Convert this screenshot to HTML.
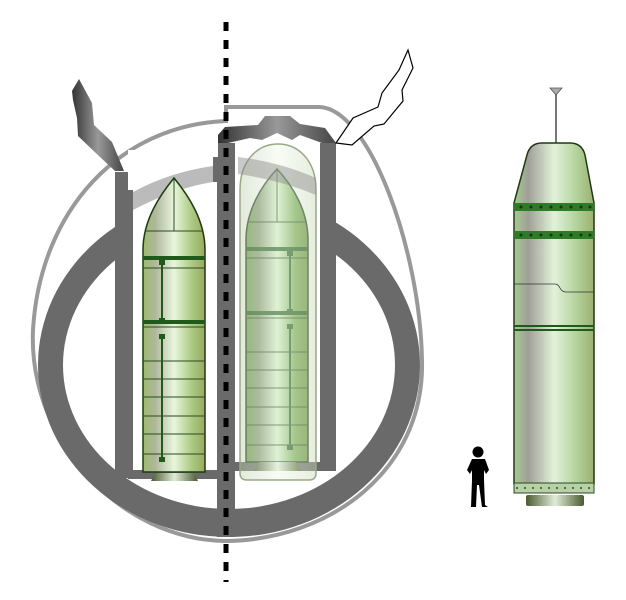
<!DOCTYPE html>
<html><head><meta charset="utf-8"><style>html,body{margin:0;padding:0;background:#fff}svg{display:block}</style></head>
<body>
<svg width="626" height="600" viewBox="0 0 626 600" xmlns="http://www.w3.org/2000/svg">
<defs>
<linearGradient id="mg" x1="0" x2="1" y1="0" y2="0">
<stop offset="0" stop-color="#9dba6c"/><stop offset="0.2" stop-color="#b0b89c"/><stop offset="0.5" stop-color="#e8f5dc"/><stop offset="0.8" stop-color="#aac880"/><stop offset="1" stop-color="#9aa860"/>
</linearGradient>
<linearGradient id="mg2" x1="0" x2="1" y1="0" y2="0">
<stop offset="0" stop-color="#6ea050"/><stop offset="0.2" stop-color="#889a78"/><stop offset="0.5" stop-color="#d0ecc4"/><stop offset="0.8" stop-color="#74aa50"/><stop offset="1" stop-color="#709040"/>
</linearGradient>
<linearGradient id="big" x1="0" x2="1" y1="0" y2="0">
<stop offset="0" stop-color="#a8c890"/><stop offset="0.18" stop-color="#a0a098"/><stop offset="0.5" stop-color="#e2f2da"/><stop offset="0.8" stop-color="#b0d098"/><stop offset="1" stop-color="#9cb070"/>
</linearGradient>
<linearGradient id="noz" x1="0" x2="1"><stop offset="0" stop-color="#4a5a30"/><stop offset="0.5" stop-color="#e0ecd8"/><stop offset="1" stop-color="#4a5a30"/></linearGradient>
<linearGradient id="dk" x1="0" x2="1"><stop offset="0" stop-color="#333"/><stop offset="0.5" stop-color="#999"/><stop offset="1" stop-color="#444"/></linearGradient>
<linearGradient id="cap" x1="0" x2="1"><stop offset="0" stop-color="#bfcfb0"/><stop offset="0.5" stop-color="#f0f8ea"/><stop offset="1" stop-color="#c8d8b8"/></linearGradient>
</defs>

<!-- outer hull -->
<path d="M226 121 C120 125 40 210 33 330 C28 440 120 540 226 541 C330 540 425 470 422 360 C420 250 370 110 320 107 L226 107 Z" fill="none" stroke="#999" stroke-width="4"/>
<!-- ring -->
<path fill-rule="evenodd" fill="#6a6a6a" d="M38 365 A191 172 0 1 0 420 365 A191 172 0 1 0 38 365 Z M63 365 A166 144 0 1 1 395 365 A166 144 0 1 1 63 365 Z"/>
<!-- white compartments clearing ring -->
<rect x="128" y="150" width="89" height="328" fill="#fff"/>
<rect x="235" y="143" width="85" height="328" fill="#fff"/>
<!-- light arc band -->
<path d="M133 192 Q170 172 213 166 L213 182 Q175 188 133 210 Z" fill="#bbb"/>
<!-- walls -->
<path d="M115 172 L128 172 L128 190 L133 190 L133 478 L115 478 Z" fill="#6a6a6a"/>
<rect x="128" y="470" width="89" height="9" fill="#6a6a6a"/>
<rect x="235" y="462" width="87" height="9" fill="#6a6a6a"/>
<rect x="320" y="143" width="16" height="328" fill="#6a6a6a"/>
<path d="M218 143 L235 143 L235 537 L217 537 L217 182 L213 182 L213 157 L218 157 Z" fill="#6a6a6a"/>
<!-- top cap -->
<path d="M218 143 L218 135 L225 127 L258 125 L265 116 L290 116 L300 124 L325 128 L336 143 L322 143 L300 135 L292 140 L277 133 L262 140 L250 138 L228 143 Z" fill="url(#dk)"/>
<!-- left chimney -->
<path d="M79 79 L92 103 L94 125 L112 142 L124 171 L115 171 L100 157 L78 136 L77 118 L73 100 L72 91 Z" fill="url(#dk)"/>
<!-- right outline zigzag -->
<path d="M336 143 L353 118 L378 107 L382 93 L399 70 L408 50 L413 68 L402 90 L403 101 L384 124 L374 126 L352 145 Z" fill="#fff" stroke="#000" stroke-width="1.2"/>

<!-- left missile -->
<path d="M143 472 L143 250 C143 220 160 195 174 178 C188 195 205 220 205 250 L205 472 Z" fill="url(#mg)" stroke="#1c3a14" stroke-width="1.5"/>
<g stroke="#2a4a20" stroke-width="1"><line x1="174" y1="179" x2="174" y2="231"/><line x1="146" y1="231" x2="202" y2="231"/>
<line x1="143" y1="268" x2="205" y2="268"/><line x1="143" y1="327" x2="205" y2="327"/><line x1="143" y1="361" x2="205" y2="361"/><line x1="143" y1="379" x2="205" y2="379"/><line x1="143" y1="397" x2="205" y2="397"/><line x1="143" y1="416" x2="205" y2="416"/><line x1="143" y1="434" x2="205" y2="434"/><line x1="143" y1="454" x2="205" y2="454"/></g>
<rect x="143" y="256" width="62" height="4" fill="#1f5a1a"/><rect x="143" y="320" width="62" height="4" fill="#1f5a1a"/>
<g stroke="#1f5a1a" stroke-width="2"><line x1="162" y1="263" x2="162" y2="320"/><line x1="162" y1="336" x2="162" y2="460"/></g>
<g fill="#1f5a1a"><rect x="159" y="260" width="6" height="5"/><rect x="159" y="318" width="6" height="5"/><rect x="159" y="334" width="6" height="5"/><rect x="159" y="457" width="6" height="5"/></g>
<path d="M155 473 L194 473 L198 481 L151 481 Z" fill="url(#noz)"/>

<!-- right missile with capsule -->
<path d="M246 462 L246 240 C246 210 262 185 277 169 C292 185 308 210 308 240 L308 462 Z" fill="url(#mg2)" stroke="#1c3a14" stroke-width="1.5"/>
<g stroke="#2a4a20" stroke-width="1"><line x1="277" y1="170" x2="277" y2="222"/><line x1="249" y1="222" x2="305" y2="222"/>
<line x1="246" y1="258" x2="308" y2="258"/><line x1="246" y1="318" x2="308" y2="318"/><line x1="246" y1="352" x2="308" y2="352"/><line x1="246" y1="370" x2="308" y2="370"/><line x1="246" y1="388" x2="308" y2="388"/><line x1="246" y1="407" x2="308" y2="407"/><line x1="246" y1="425" x2="308" y2="425"/><line x1="246" y1="445" x2="308" y2="445"/></g>
<rect x="246" y="247" width="62" height="4" fill="#1f5a1a"/><rect x="246" y="311" width="62" height="4" fill="#1f5a1a"/>
<g stroke="#1f5a1a" stroke-width="2"><line x1="290" y1="254" x2="290" y2="311"/><line x1="290" y1="326" x2="290" y2="448"/></g>
<g fill="#1f5a1a"><rect x="287" y="251" width="6" height="5"/><rect x="287" y="309" width="6" height="5"/><rect x="287" y="324" width="6" height="5"/><rect x="287" y="445" width="6" height="5"/></g>
<path d="M259 462 L296 462 L301 471 L254 471 Z" fill="url(#noz)"/>
<path d="M240 190 C240 160 258 144 278 144 C298 144 316 160 316 190 L316 473 Q316 480 309 480 L247 480 Q240 480 240 473 Z" fill="url(#cap)" fill-opacity="0.45" stroke="#9aa888" stroke-width="1.5"/>
<path d="M238 157 Q280 162 316 178 L316 195 Q280 180 238 174 Z" fill="#888" fill-opacity="0.45"/>

<!-- dashed axis -->
<line x1="226" y1="22" x2="226" y2="582" stroke="#000" stroke-width="5" stroke-dasharray="9 9"/>

<!-- big missile -->
<line x1="556" y1="90" x2="556" y2="143" stroke="#777" stroke-width="2"/>
<path d="M550 88 L562 88 L556 95 Z" fill="#aaa" stroke="#555" stroke-width="0.8"/>
<path d="M514 484 L514 203 L527 155 Q530 143 542 143 L570 143 Q582 143 585 155 L594 203 L594 484 Z" fill="url(#big)" stroke="#1c3a14" stroke-width="1.5"/>
<rect x="514" y="203" width="80" height="8" fill="#2f7a28"/><rect x="514" y="231" width="80" height="8" fill="#2f7a28"/>
<g fill="#103a0e"><circle cx="521" cy="207" r="1.5"/><circle cx="531" cy="207" r="1.5"/><circle cx="541" cy="207" r="1.5"/><circle cx="551" cy="207" r="1.5"/><circle cx="561" cy="207" r="1.5"/><circle cx="571" cy="207" r="1.5"/><circle cx="581" cy="207" r="1.5"/><circle cx="590" cy="207" r="1.5"/>
<circle cx="521" cy="235" r="1.5"/><circle cx="531" cy="235" r="1.5"/><circle cx="541" cy="235" r="1.5"/><circle cx="551" cy="235" r="1.5"/><circle cx="561" cy="235" r="1.5"/><circle cx="571" cy="235" r="1.5"/><circle cx="581" cy="235" r="1.5"/><circle cx="590" cy="235" r="1.5"/></g>
<path d="M514 284 L555 284 Q558 284 560 288 Q562 292 566 292 L594 292" fill="none" stroke="#333" stroke-width="0.8"/>
<rect x="514" y="325" width="80" height="2" fill="#1f5a1a"/><rect x="514" y="329" width="80" height="2" fill="#1f5a1a"/>
<rect x="514" y="483" width="80" height="10" fill="#b8d0a8" stroke="#2a4a20" stroke-width="1"/>
<line x1="516" y1="488" x2="592" y2="488" stroke="#2a4a20" stroke-width="1.5" stroke-dasharray="2 6"/>
<rect x="526" y="495" width="58" height="11" rx="2" fill="url(#noz)"/>

<!-- person -->
<g fill="#000">
<circle cx="478" cy="452" r="5.5"/>
<path d="M472 459 L485 459 L489 470 L486 474 L484 470 L484 480 L485 505 L488 507 L482 507 L479 485 L477 485 L476 507 L471 507 L472 480 L472 470 L470 474 L467 470 Z"/>
</g>
</svg>
</body></html>
